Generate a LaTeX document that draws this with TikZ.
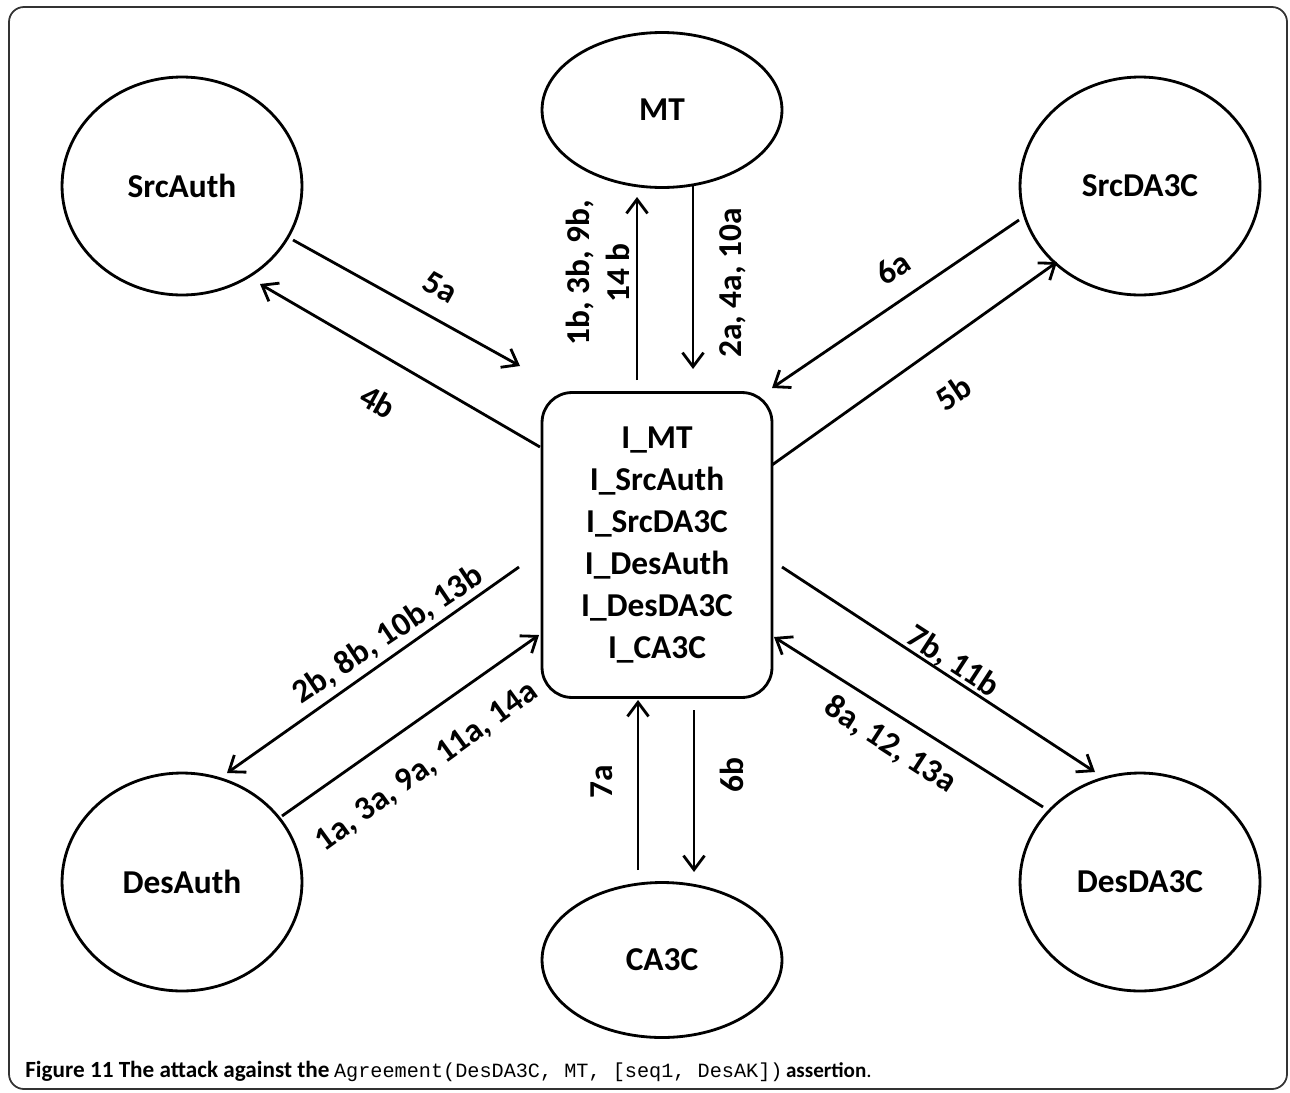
\documentclass[tikz,border=0pt]{standalone}
\usepackage{fontspec}
\setmainfont{Carlito}
\setmonofont{Liberation Mono}
\usetikzlibrary{shapes.geometric,arrows.meta}
\begin{document}
\begin{tikzpicture}[x=0.02cm,y=-0.02cm,
  ent/.style={draw,ellipse,line width=1.6pt,inner sep=0pt,font=\fontsize{19}{23}\selectfont\bfseries},
  big/.style={ent,minimum width=4.8cm,minimum height=4.36cm},
  flat/.style={ent,minimum width=4.8cm,minimum height=3.1cm},
  hub/.style={draw,rectangle,rounded corners=0.6cm,line width=1.6pt,minimum width=4.6cm,minimum height=6.1cm,align=center,font=\fontsize{19}{23.9}\selectfont\bfseries},
  lab/.style={inner sep=0pt,font=\fontsize{19}{22.8}\selectfont\bfseries,align=center},
  arr/.style={line width=1.6pt,-{Straight Barb[length=8pt,width=12pt,line width=1.6pt]}},
  ln/.style={line width=1.6pt}]
\useasboundingbox (0,0) rectangle (1290,1092);
\draw[line width=1pt,black!80,rounded corners=0.3cm] (9,7) rectangle (1287,1089);

% nodes
\node[flat] (MT) at (662,110) {MT};
\node[big] (SrcAuth) at (182,186) {SrcAuth};
\node[big] (SrcDA3C) at (1140,186) {SrcDA3C};
\node[big] (DesAuth) at (182,882) {DesAuth};
\node[big] (DesDA3C) at (1140,882) {DesDA3C};
\node[flat] (CA3C) at (662,960) {CA3C};
\node[hub] (I) at (657,545) {I\_MT\\I\_SrcAuth\\I\_SrcDA3C\\I\_DesAuth\\I\_DesDA3C\\I\_CA3C};

% connector end points
\coordinate (mtA) at (637,380); \coordinate (mtB) at (637,197);
\coordinate (mtC) at (693,186); \coordinate (mtD) at (693,369);
\coordinate (caA) at (638,870); \coordinate (caB) at (638,700);
\coordinate (caC) at (694,710); \coordinate (caD) at (694,872);
\coordinate (saA) at (293,240); \coordinate (saB) at (520,366);
\coordinate (saC) at (540,447); \coordinate (saD) at (260,284);
\coordinate (sdA) at (1019,220); \coordinate (sdB) at (772,388);
\coordinate (sdC) at (772,465); \coordinate (sdD) at (1057,262);
\coordinate (daA) at (519,567); \coordinate (daB) at (227,773);
\coordinate (daC) at (282,816); \coordinate (daD) at (539,635);
\coordinate (ddA) at (782,567); \coordinate (ddB) at (1095,772);
\coordinate (ddC) at (1043,807); \coordinate (ddD) at (774,637);

% connectors
\draw[arr] (mtA) -- (mtB);
\draw[arr] (mtC) -- (mtD);
\draw[arr] (caA) -- (caB);
\draw[arr] (caC) -- (caD);
\draw[arr] (saA) -- (saB);
\draw[arr] (saC) -- (saD);
\draw[arr] (sdA) -- (sdB);
\draw[arr] (sdC) -- (sdD);
\draw[arr] (daA) -- (daB);
\draw[arr] (daC) -- (daD);
\draw[arr] (ddA) -- (ddB);
\draw[arr] (ddC) -- (ddD);

% labels
\node[lab,rotate=90] (l1) at (598,273) {1b, 3b, 9b,\\14 b};
\node[lab,rotate=90] (l2) at (733,283) {2a, 4a, 10a};
\node[lab,rotate=90] (l3) at (602,782) {7a};
\node[lab,rotate=90] (l4) at (732,775) {6b};
\node[lab,rotate=-29] (l5) at (440,287) {5a};
\node[lab,rotate=-29] (l6) at (378,402) {4b};
\node[lab,rotate=34] (l7) at (893,268) {6a};
\node[lab,rotate=34] (l8) at (953,393) {5b};
\node[lab,rotate=34] (l9) at (388,635) {2b, 8b, 10b, 13b};
\node[lab,rotate=36] (l10) at (427,767) {1a, 3a, 9a, 11a, 14a};
\node[lab,rotate=-33] (l11) at (953,662) {7b, 11b};
\node[lab,rotate=-33] (l12) at (890,745) {8a, 12, 13a};

% caption
\node[anchor=base west,inner sep=0pt,font=\fontsize{11.5}{14}\selectfont] (cap) at (25,1077)
  {{\fontsize{13.2}{14}\selectfont\textbf{Figure 11 The attack against the}} \texttt{Agreement(DesDA3C, MT, [seq1, DesAK])}\,{\fontsize{12}{14}\selectfont\textbf{assertion}.}};
\end{tikzpicture}
\end{document}
